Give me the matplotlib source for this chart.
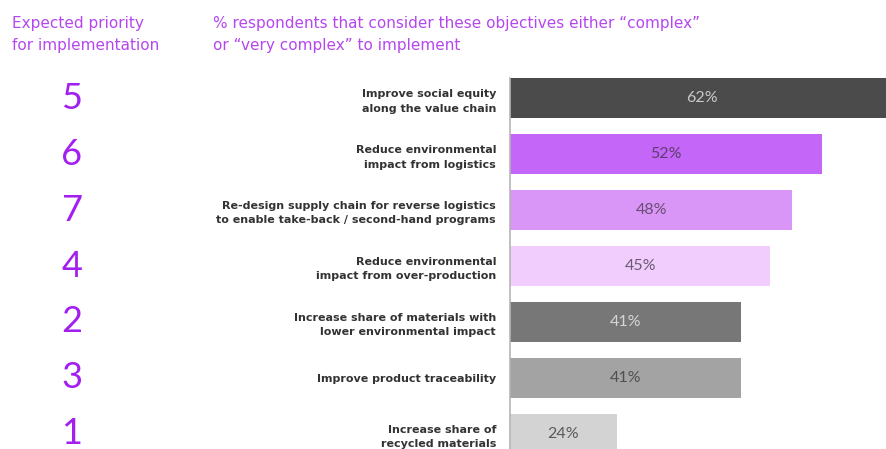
import matplotlib.pyplot as plt
from matplotlib.transforms import blended_transform_factory

# --------------------------------------------------
# Data
# --------------------------------------------------
objectives = [
    "Improve social equity\nalong the value chain",
    "Reduce environmental\nimpact from logistics",
    "Re-design supply chain for reverse logistics\nto enable take-back / second-hand programs",
    "Reduce environmental\nimpact from over-production",
    "Increase share of materials with\nlower environmental impact",
    "Improve product traceability",
    "Increase share of\nrecycled materials",
]
pct_complex = [62, 52, 48, 45, 41, 41, 24]
priority = [5, 6, 7, 4, 2, 3, 1]

bar_colors = ["#4b4b4b", "#c466f7", "#d996f6", "#f0cdfd", "#777777", "#a3a3a3", "#d3d3d3"]
label_colors = ["#c9c9c9", "#5e3d6e", "#6a4d74", "#6c5a74", "#d6d6d6", "#505050", "#5a5a5a"]

purple = "#a21ff0"
header_purple = "#b546f0"

# --------------------------------------------------
# Figure layout
# --------------------------------------------------
W, H = 886, 449
fig = plt.figure(figsize=(W / 100, H / 100), dpi=100)
plt.rcParams["font.family"] = ["DejaVu Sans"]

ax = fig.add_axes([510 / W, 0, 376 / W, 371 / H])

y = list(range(len(pct_complex)))
x_left, x_right = 9.4, 60.8

ax.barh(y, pct_complex, height=0.71, color=bar_colors)
ax.set_xlim(x_left, x_right)
ax.set_ylim(6.27, -0.36)

for i, v in enumerate(pct_complex):
    ax.text((x_left + min(v, x_right + 2.5)) / 2, i, f"{v}%",
            ha="center", va="center", fontsize=11.5, color=label_colors[i],
            family="Lato")

ax.set_yticks(y)
ax.set_yticklabels(objectives, fontsize=8, fontweight="bold",
                   color="#333333", linespacing=1.55)
ax.tick_params(axis="y", length=0, pad=10)
ax.set_xticks([])

for side in ["top", "right", "bottom"]:
    ax.spines[side].set_visible(False)
ax.spines["left"].set_color("#b5b5b5")
ax.spines["left"].set_linewidth(1.2)

# priority numbers on the far left
trans = blended_transform_factory(fig.transFigure, ax.transData)
for i, p in enumerate(priority):
    ax.text(72 / W, i, str(p), transform=trans, ha="center", va="center",
            fontsize=26, color=purple, clip_on=False, family="Lato")

# column headers
fig.text(12 / W, 1 - 16 / H, "Expected priority\nfor implementation",
         ha="left", va="top", fontsize=11, color=header_purple, linespacing=1.6)
fig.text(213 / W, 1 - 16 / H,
         "% respondents that consider these objectives either \u201ccomplex\u201d\n"
         "or \u201cvery complex\u201d to implement",
         ha="left", va="top", fontsize=11, color=header_purple, linespacing=1.6)

fig.savefig("out.png", dpi=100)
plt.close(fig)
